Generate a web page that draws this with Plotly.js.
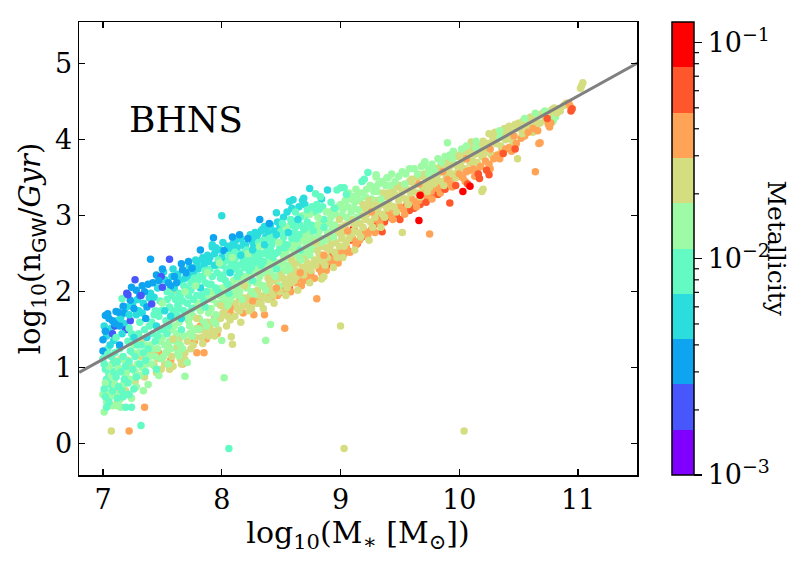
<!DOCTYPE html>
<html>
<head>
<meta charset="utf-8">
<script src="https://cdn.plot.ly/plotly-3.0.1.min.js"></script>
<style>
  html, body { margin: 0; padding: 0; background: #fff; }
  #chart { width: 806px; height: 564px; }
</style>
</head>
<body>
<div id="chart"></div>
<script>
// Galaxies: [log10 stellar mass, log10 BHNS merger count per Gyr], grouped by metallicity bin.
const violetPts = [[7.08,1.45],[7.10,1.55],[7.19,1.50],[7.20,1.98],[7.21,1.96],[7.27,2.16],[7.23,1.62],[7.32,1.95],[7.41,1.84],[7.49,2.20],[7.56,2.43],[7.50,2.06]];

const bluePts = [[7.02,1.69],[7.04,1.71],[7.05,1.65],[7.00,1.37],[7.00,1.22],[7.08,1.62],[7.02,1.48],
  [7.11,1.74],[7.13,1.73],[7.10,1.58],[7.14,1.55],[7.17,1.81],[7.18,1.72],
  [7.24,2.06],[7.28,2.02],[7.23,1.89],[7.26,1.78],
  [7.31,1.95],[7.37,1.80],[7.35,2.00],[7.38,2.10],[7.33,2.08],
  [7.40,2.43],[7.45,2.22],[7.42,2.12],[7.50,2.30],[7.57,2.08],
  [7.66,2.37],[7.67,2.29],[7.60,2.20],[7.62,2.12],[7.70,2.25],
  [7.72,2.40],[7.75,2.31],[7.82,2.55],
  [7.93,2.71],[8.02,2.54],[8.09,2.72],[8.15,2.75],[8.22,2.70],[8.32,2.95],[8.40,2.90],
  [7.14,1.30],[7.36,1.65],[7.55,2.12],[7.47,2.15]];

const cyanPts = [[7.01,1.55],[7.03,1.42],[7.07,1.52],[7.09,1.36],
  [7.12,1.62],[7.15,1.66],[7.18,1.58],
  [7.20,1.80],[7.25,1.85],[7.28,1.70],[7.29,1.90],
  [7.30,1.75],[7.34,1.85],[7.39,1.92],[7.33,1.72],
  [7.43,1.93],[7.40,1.98],[7.46,2.05],
  [7.51,2.26],[7.52,2.16],[7.58,2.20],[7.59,2.30],
  [7.63,2.23],[7.60,2.05],[7.65,2.15],[7.69,2.18],
  [7.71,2.20],[7.73,2.33],[7.76,2.25],[7.79,2.35],
  [7.80,2.30],[7.84,2.45],[7.89,2.40],
  [7.92,2.59],[7.90,2.45],[7.94,2.50],[7.99,2.55],
  [8.00,3.00],[8.04,2.55],[8.08,2.57],[8.01,2.65],[8.09,2.62],
  [8.10,2.65],[8.13,2.58],[8.16,2.70],[8.19,2.60],
  [8.20,2.62],[8.24,2.75],[8.27,2.60],[8.29,2.70],
  [8.30,2.75],[8.34,2.82],[8.37,2.72],[8.38,2.85],[8.39,2.78],
  [8.46,3.04],[8.41,2.88],[8.44,2.80],[8.47,2.92],[8.49,2.85],
  [8.57,3.19],[8.52,2.98],[8.55,3.05],[8.59,3.10],
  [8.60,3.21],[8.69,3.23],[8.68,3.20],[8.65,3.12],
  [8.70,3.15],[8.74,3.36],[8.89,3.34],[8.84,3.22],
  [7.06,1.30],[7.16,1.45],[7.22,1.70],[7.78,2.42],[7.83,2.42],[7.85,2.35],[7.88,2.48],[7.95,2.58],[7.92,2.62],
  [8.05,2.60],[8.00,2.45],[8.18,2.62],[8.12,2.68],[8.28,2.78],[8.26,2.66],[8.36,2.86],[8.33,2.80],
  [7.45,1.55],[7.57,1.68],[7.66,1.65],[7.82,2.05],[7.94,2.35],[8.07,2.25],[8.16,2.48],[8.26,2.55],
  [8.36,2.62],[8.46,2.75],[8.56,2.78],[8.64,2.95],[7.26,1.40],[7.37,1.40],[7.52,1.75]];

const aquaPts = [[7.00,1.12],[7.02,0.98],[7.05,0.92],[7.08,1.05],[7.03,0.85],[7.06,0.78],[7.01,0.72],[7.09,0.95],[7.04,1.25],[7.07,1.15],[7.02,0.62],[7.08,0.70],[7.05,0.55],[7.03,0.48],
  [7.10,1.20],[7.12,1.08],[7.15,0.95],[7.17,1.15],[7.19,1.02],[7.11,0.88],[7.13,0.75],[7.16,0.70],[7.18,0.85],[7.14,1.25],[7.19,0.48],[7.12,0.60],[7.17,0.62],[7.16,1.91],
  [7.21,1.35],[7.23,1.22],[7.29,1.30],[7.22,1.08],[7.25,0.98],[7.27,1.15],[7.24,0.48],[7.28,0.88],[7.21,0.80],[7.26,0.72],[7.21,0.65],
  [7.30,1.45],[7.32,1.30],[7.35,1.50],[7.39,1.55],[7.34,1.20],[7.36,1.10],[7.38,1.25],[7.32,0.24],[7.31,1.05],
  [7.41,1.60],[7.43,1.70],[7.47,1.68],[7.49,1.75],[7.42,1.45],[7.44,1.35],[7.46,1.42],[7.48,1.50],
  [7.54,1.90],[7.56,1.80],[7.58,1.95],[7.53,1.62],[7.55,1.55],[7.59,1.75],[7.51,1.50],
  [7.61,1.90],[7.63,1.82],[7.65,1.95],[7.67,1.88],[7.62,1.70],[7.64,1.78],[7.68,1.75],
  [7.70,2.05],[7.72,1.95],[7.74,2.02],[7.76,1.90],[7.71,1.85],[7.75,1.78],[7.79,1.95],
  [7.80,2.15],[7.84,2.20],[7.86,2.12],[7.83,1.95],[7.87,2.00],[7.89,2.10],[7.85,1.88],
  [7.90,2.30],[7.92,2.20],[7.96,2.25],[7.91,2.10],[7.95,2.05],[7.99,2.18],[7.97,2.00],
  [8.00,2.35],[8.02,2.40],[8.04,2.30],[8.06,2.42],[8.08,2.35],[8.01,2.22],[8.03,2.15],[8.05,2.10],[8.06,-0.06],
  [8.10,2.40],[8.12,2.45],[8.14,2.35],[8.18,2.40],[8.11,2.30],[8.15,2.25],[8.19,2.32],[8.13,2.20],
  [8.20,2.45],[8.24,2.42],[8.28,2.48],[8.21,2.35],[8.25,2.32],[8.29,2.40],[8.23,2.28],[8.27,2.38],
  [8.30,2.55],[8.34,2.50],[8.38,2.55],[8.31,2.45],[8.35,2.40],[8.39,2.48],[8.33,2.35],
  [8.40,2.70],[8.42,2.62],[8.44,2.68],[8.41,2.55],[8.45,2.50],[8.49,2.58],[8.43,2.45],[8.47,2.52],
  [8.50,2.80],[8.52,2.72],[8.58,2.88],[8.51,2.65],[8.55,2.62],[8.59,2.70],[8.53,2.58],
  [8.60,2.92],[8.62,2.85],[8.66,2.88],[8.61,2.78],[8.65,2.75],[8.69,2.82],[8.63,2.70],
  [8.79,3.29],[8.76,3.12],[8.70,3.00],[8.72,2.92],[8.78,3.05],[8.71,2.85],[8.75,2.88],[8.77,2.80],
  [8.80,3.15],[8.82,3.08],[8.85,3.12],[8.86,2.95],[8.83,3.25],
  [8.97,3.34],[9.00,3.37],[8.92,3.18],[8.95,3.10],[9.03,3.37],[9.05,3.28],[9.18,3.45],[9.20,3.48],[9.23,3.57],
  [7.04,1.18],[7.01,1.05],[7.11,1.40],[7.22,1.52],[7.24,1.45],[7.31,1.60],[7.48,1.88],[7.44,1.75],[7.54,2.00],
  [7.68,2.08],[7.64,1.98],[7.74,2.12],[7.77,2.18],[7.86,2.28],[7.81,2.20],[7.97,2.42],[7.96,2.35],[8.06,2.48],
  [8.11,2.52],[8.17,2.50],[8.21,2.55],[8.25,2.52],[8.31,2.65],[8.35,2.68],[8.43,2.72],[8.58,2.95],[8.51,2.90],
  [8.62,3.05],[8.66,2.98],[8.72,3.08],
  [7.54,1.45],[7.66,1.50],[7.86,1.80],[8.06,1.98],[8.26,2.15],[8.46,2.30],[8.66,2.55],[8.86,2.85],[7.36,0.95],[7.45,0.98],[7.22,0.65]];

const greenPts = [[7.01,0.42],[7.03,0.55],[7.00,0.65],[7.06,0.62],[7.09,0.82],[7.04,0.68],[7.07,0.90],[7.02,0.80],[7.05,1.02],[7.08,0.50],
  [7.11,0.65],[7.14,0.58],[7.17,0.78],[7.19,0.92],[7.13,1.00],[7.10,0.78],[7.15,0.48],[7.18,1.10],[7.12,0.50],
  [7.20,0.95],[7.23,0.85],[7.25,1.20],[7.27,0.95],[7.29,1.05],[7.28,0.75],[7.24,0.60],[7.26,1.30],
  [7.30,1.20],[7.33,1.00],[7.35,1.30],[7.37,1.05],[7.39,1.15],[7.31,0.90],[7.38,0.78],[7.34,0.70],
  [7.40,1.30],[7.42,1.25],[7.44,1.15],[7.46,1.25],[7.48,1.35],[7.41,1.05],[7.49,1.12],[7.47,0.90],
  [7.50,1.40],[7.52,1.30],[7.56,1.35],[7.58,1.50],[7.53,1.20],[7.57,1.25],[7.55,1.05],[7.51,1.15],
  [7.60,1.55],[7.62,1.45],[7.64,1.60],[7.68,1.42],[7.61,1.35],[7.65,1.30],[7.67,1.25],[7.69,0.89],[7.63,1.20],[7.64,1.16],[7.71,1.07],
  [7.70,1.70],[7.72,1.62],[7.74,1.75],[7.76,1.68],[7.78,1.80],[7.73,1.55],[7.77,1.50],[7.75,1.42],
  [7.80,1.85],[7.82,1.75],[7.84,1.90],[7.88,1.92],[7.81,1.65],[7.85,1.60],[7.89,1.72],[7.87,1.55],[7.81,1.51],
  [7.90,2.00],[7.92,1.90],[7.94,1.98],[7.96,1.85],[7.98,1.95],[7.91,1.78],[7.95,1.70],[7.93,1.62],
  [8.00,2.05],[8.02,1.95],[8.04,2.08],[8.08,2.10],[8.01,1.88],[8.05,1.82],[8.09,1.95],[8.02,0.87],[8.00,1.36],[8.07,1.90],
  [8.10,2.15],[8.12,2.05],[8.14,2.18],[8.16,2.10],[8.18,2.20],[8.11,1.98],[8.15,2.00],[8.17,1.90],
  [8.20,2.20],[8.22,2.10],[8.24,2.22],[8.28,2.28],[8.21,2.05],[8.25,2.00],[8.29,2.12],[8.27,1.95],
  [8.30,2.30],[8.32,2.20],[8.34,2.32],[8.36,2.25],[8.38,2.35],[8.31,2.12],[8.35,2.08],[8.37,2.02],[8.37,1.36],
  [8.41,1.57],[8.40,2.42],[8.42,2.35],[8.44,2.40],[8.48,2.08],[8.41,2.25],[8.45,2.20],[8.49,2.32],[8.47,2.38],
  [8.50,2.55],[8.52,2.48],[8.54,2.52],[8.56,2.45],[8.58,2.58],[8.51,2.40],[8.55,2.35],[8.57,2.30],
  [8.60,2.65],[8.62,2.58],[8.64,2.62],[8.68,2.68],[8.61,2.50],[8.65,2.45],[8.69,2.52],[8.67,2.42],
  [8.70,2.75],[8.72,2.68],[8.74,2.78],[8.76,2.70],[8.78,2.82],[8.71,2.60],[8.75,2.55],[8.73,2.52],[8.77,2.62],
  [8.80,2.88],[8.82,2.80],[8.84,2.92],[8.88,2.90],[8.81,2.72],[8.85,2.70],[8.89,2.78],[8.83,2.65],[8.87,2.68],
  [8.90,3.05],[8.92,2.98],[8.94,3.08],[8.96,3.02],[8.98,3.12],[8.91,2.90],[8.95,2.88],[8.93,2.82],
  [9.00,3.15],[9.02,3.08],[9.04,3.20],[9.06,3.12],[9.08,3.22],[9.01,3.00],[9.05,2.98],[9.09,3.05],[9.07,3.30],
  [9.10,3.25],[9.12,3.18],[9.14,3.28],[9.16,3.20],[9.18,3.30],[9.11,3.10],[9.15,3.08],[9.13,3.35],
  [9.30,3.51],[9.22,3.35],[9.25,3.40],[9.28,3.32],[9.21,3.25],[9.26,3.22],[9.29,3.38],
  [9.30,3.54],[9.32,3.42],[9.35,3.45],[9.38,3.40],[9.31,3.32],[9.39,3.50],
  [9.40,3.50],[9.43,3.55],[9.46,3.45],[9.49,3.52],[9.42,3.40],[9.52,3.58],[9.55,3.55],[9.58,3.62],
  [9.62,3.62],[9.65,3.55],[9.68,3.65],[9.70,3.68],[9.71,3.71],[9.74,3.62],[9.77,3.68],[9.79,3.60],
  [9.82,3.75],[9.85,3.70],[9.88,3.78],[9.90,3.96],[9.92,3.80],[9.95,3.85],
  [10.02,3.88],[10.06,3.92],[10.14,3.98],[10.34,4.03],[10.55,4.28],[10.64,4.35],[10.78,4.23],[10.79,4.25],[10.72,4.38],[10.81,4.30],
  [7.50,1.85],[7.69,2.00],[7.78,2.08],[7.88,2.25],[7.98,2.38],[8.09,2.45],[8.22,2.50],[8.32,2.60],[8.48,2.65],
  [8.54,2.85],[8.68,3.00],[8.74,3.02],[8.88,3.05],[8.81,2.98],
  [7.73,1.45],[7.95,1.58],[8.14,1.95],[8.34,2.08],[8.54,2.28],[8.74,2.48],[8.94,2.72],[9.14,2.98],[9.34,3.22],
  [9.54,3.42],[9.74,3.55],[9.94,3.75],[10.14,3.90],[10.34,4.12]];

const khakiPts = [[7.07,0.17],[7.09,1.10],[7.12,0.55],[7.15,1.12],[7.19,0.70],[7.13,0.68],
  [7.21,1.10],[7.27,0.82],[7.29,1.18],[7.24,1.00],[7.32,1.15],[7.35,0.88],[7.38,1.21],[7.33,1.38],
  [7.43,1.03],[7.46,1.12],[7.49,0.98],[7.41,1.18],[7.45,0.94],
  [7.54,1.21],[7.52,1.05],[7.55,1.28],[7.58,1.15],[7.56,0.98],[7.59,1.02],
  [7.60,2.02],[7.62,1.26],[7.65,1.12],[7.69,1.20],[7.69,1.11],[7.64,1.38],[7.66,1.05],
  [7.71,1.35],[7.76,1.30],[7.78,1.40],[7.74,1.25],[7.79,1.52],
  [7.81,1.50],[7.83,1.40],[7.86,1.48],[7.88,1.60],[7.84,1.32],[7.89,1.42],
  [7.90,1.55],[7.92,1.48],[7.97,1.50],[7.99,1.65],[7.94,1.42],
  [8.03,1.78],[8.05,1.68],[8.07,1.63],[8.09,1.31],[8.08,1.41],[8.04,1.55],[8.01,1.72],[8.06,1.85],
  [8.15,1.75],[8.12,1.85],[8.18,1.82],[8.11,1.68],[8.19,1.92],[8.16,1.60],
  [8.20,1.90],[8.22,1.82],[8.24,1.95],[8.28,2.00],[8.23,1.75],[8.29,1.85],
  [8.30,2.02],[8.32,1.95],[8.36,1.92],[8.38,2.00],[8.33,1.85],[8.39,1.90],[8.35,1.78],
  [8.40,2.10],[8.42,2.02],[8.44,2.15],[8.48,2.18],[8.43,1.95],[8.49,2.00],
  [8.50,2.25],[8.52,2.18],[8.56,2.15],[8.58,2.22],[8.53,2.10],[8.59,2.12],[8.55,2.05],
  [8.60,2.35],[8.62,2.28],[8.64,2.38],[8.68,2.32],[8.63,2.20],[8.69,2.22],[8.61,2.15],
  [8.70,2.45],[8.72,2.38],[8.76,2.35],[8.78,2.42],[8.71,2.30],[8.75,2.28],[8.79,2.35],
  [8.84,2.17],[8.80,2.55],[8.82,2.50],[8.84,2.60],[8.88,2.58],[8.81,2.42],[8.85,2.40],[8.89,2.45],[8.87,2.35],
  [9.00,1.55],[8.90,2.70],[8.92,2.62],[8.96,2.65],[8.98,2.78],[8.91,2.55],[8.95,2.52],[8.99,2.60],[8.97,2.45],
  [9.03,-0.06],
  [9.00,2.85],[9.02,2.78],[9.04,2.88],[9.08,2.92],[9.01,2.70],[9.05,2.65],[9.09,2.75],[9.03,2.60],[9.07,2.70],
  [9.10,2.95],[9.12,2.88],[9.16,2.90],[9.18,3.00],[9.11,2.80],[9.15,2.78],[9.19,2.85],[9.17,2.72],
  [9.20,3.10],[9.22,3.02],[9.24,3.12],[9.28,3.15],[9.21,2.95],[9.25,2.92],[9.29,2.98],[9.27,2.85],
  [9.30,3.20],[9.32,3.12],[9.36,3.15],[9.38,3.25],[9.31,3.05],[9.35,3.02],[9.39,3.10],[9.37,2.98],
  [9.40,3.30],[9.42,3.25],[9.44,3.35],[9.46,3.28],[9.48,3.38],[9.41,3.15],[9.45,3.12],[9.49,3.20],[9.47,3.05],
  [9.52,2.78],[9.50,3.40],[9.52,3.32],[9.56,3.35],[9.58,3.45],[9.51,3.25],[9.55,3.22],[9.59,3.30],[9.57,3.15],
  [9.60,3.48],[9.62,3.40],[9.64,3.50],[9.68,3.52],[9.61,3.32],[9.65,3.30],[9.69,3.38],[9.67,3.25],
  [9.70,3.55],[9.72,3.48],[9.76,3.45],[9.78,3.52],[9.71,3.40],[9.75,3.38],[9.79,3.42],[9.73,3.32],
  [9.80,3.62],[9.82,3.55],[9.84,3.65],[9.88,3.68],[9.81,3.48],[9.85,3.45],[9.89,3.52],[9.87,3.40],
  [9.90,3.72],[9.92,3.65],[9.96,3.68],[9.98,3.78],[9.91,3.58],[9.95,3.55],[9.99,3.62],[9.97,3.50],
  [10.00,3.80],[10.02,3.72],[10.04,3.82],[10.08,3.85],[10.01,3.65],[10.05,3.62],[10.09,3.70],[10.04,0.17],
  [10.10,3.97],[10.10,3.88],[10.12,3.80],[10.16,3.82],[10.18,3.92],[10.11,3.72],[10.15,3.70],[10.19,3.78],[10.20,3.35],[10.19,3.32],
  [10.25,4.08],[10.28,4.05],[10.20,3.98],[10.22,3.90],[10.24,3.95],[10.28,3.98],[10.21,3.82],[10.27,3.80],
  [10.30,4.10],[10.32,4.02],[10.36,4.05],[10.38,4.15],[10.31,3.95],[10.35,3.92],[10.39,4.00],
  [10.47,4.20],[10.49,3.75],[10.40,4.12],[10.42,4.18],[10.44,4.10],[10.48,4.15],[10.41,4.02],[10.45,3.98],
  [10.58,4.26],[10.50,4.22],[10.52,4.15],[10.54,4.25],[10.56,4.18],[10.59,4.20],[10.53,4.08],
  [10.62,4.10],[10.60,4.30],[10.63,4.25],[10.66,4.32],[10.68,4.22],[10.65,4.18],
  [10.74,4.36],[10.70,4.35],[10.72,4.30],[10.76,4.32],[10.78,4.40],[10.73,4.25],
  [10.83,4.41],[10.80,4.42],[10.82,4.35],[10.85,4.38],[10.88,4.45],
  [11.03,4.71],[11.04,4.75],[11.02,4.68],[10.90,4.48],
  [7.59,1.38],[7.79,1.65],[7.99,1.82],[8.19,2.08],[8.39,2.18],[8.59,2.42],[8.79,2.65],[8.99,2.95],[9.19,3.15],[9.24,3.20],[9.36,3.30],
  [8.13,1.78],[8.25,1.78],[8.32,1.85],[8.44,1.85],[8.54,1.95],[8.64,2.02],[8.74,2.12],[8.86,2.20],[8.94,2.32],
  [9.02,2.45],[9.12,2.55],[9.24,2.68],[9.34,2.85]];

const orangePts = [[7.22,0.17],[7.35,0.48],[7.47,1.20],[7.57,1.10],[7.61,1.39],[7.66,1.21],[7.67,1.05],[7.65,1.20],
  [7.77,1.35],[7.79,1.20],[7.82,1.55],[7.87,1.38],[7.85,1.20],[7.94,1.65],[7.99,2.03],[7.96,1.45],
  [8.03,1.82],[8.07,1.72],[8.08,1.80],[8.05,1.95],[8.15,1.93],[8.18,1.72],
  [8.21,1.85],[8.28,1.92],[8.27,1.70],[8.36,1.70],[8.37,1.95],[8.39,2.05],[8.34,1.92],
  [8.42,1.92],[8.45,2.00],[8.47,1.95],[8.53,1.52],[8.52,2.02],[8.56,2.08],[8.58,2.00],
  [8.62,2.12],[8.65,2.18],[8.67,2.08],[8.69,2.15],[8.72,2.20],[8.75,2.25],[8.78,2.18],[8.80,1.91],
  [8.82,2.30],[8.85,2.35],[8.88,2.28],[8.84,2.25],[8.92,2.40],[8.95,2.45],[8.98,2.38],[8.99,2.50],
  [9.00,2.55],[9.03,2.50],[9.05,2.58],[9.08,2.52],[9.10,2.70],[9.13,2.62],[9.16,2.68],[9.19,2.75],
  [9.27,2.85],[9.20,2.80],[9.23,2.75],[9.26,2.82],[9.29,2.78],[9.30,2.95],[9.33,2.90],[9.36,2.98],[9.39,3.00],
  [9.40,3.05],[9.43,3.00],[9.46,3.08],[9.49,3.12],[9.44,2.95],[9.50,3.12],[9.53,3.08],[9.56,3.15],[9.59,3.20],[9.54,3.02],
  [9.60,3.22],[9.63,3.18],[9.66,3.20],[9.69,3.28],[9.64,3.12],[9.75,2.76],[9.70,3.30],[9.73,3.25],[9.76,3.32],[9.79,3.35],[9.77,3.22],
  [9.80,3.40],[9.83,3.35],[9.86,3.42],[9.89,3.45],[9.84,3.30],[9.90,3.48],[9.93,3.42],[9.96,3.50],[9.99,3.52],[9.94,3.38],
  [10.00,3.55],[10.03,3.50],[10.06,3.58],[10.09,3.60],[10.05,3.45],[10.12,3.62],[10.15,3.58],[10.18,3.65],[10.13,3.52],
  [10.26,3.62],[10.22,3.72],[10.25,3.68],[10.29,3.75],[10.32,3.80],[10.36,3.85],[10.39,3.88],[10.34,3.75],
  [10.42,3.90],[10.45,3.92],[10.48,3.95],[10.44,3.85],[10.52,4.02],[10.55,4.05],[10.58,4.10],
  [10.64,3.58],[10.67,3.95],[10.68,3.96],[10.62,4.15],[10.66,4.12],[10.76,4.17],[10.75,4.20],[10.77,4.22],
  [10.93,4.45],[10.92,4.48],
  [8.26,1.88],[8.46,2.05],[8.66,2.25],[8.86,2.48],[9.06,2.80],[9.26,3.05],[9.66,3.42],[9.86,3.58],[10.06,3.75],[10.26,3.88],[10.46,4.05]];

const vermilionPts = [[8.48,1.98],[8.57,2.05],[8.73,2.25],[8.89,2.35],[8.96,2.42],[8.93,2.48],
  [9.06,2.54],[9.08,2.68],[9.14,2.63],[9.18,2.72],[9.22,2.78],[9.28,2.88],
  [9.35,2.79],[9.37,2.92],[9.47,3.02],[9.42,2.98],[9.50,2.95],[9.58,3.07],
  [9.67,3.15],[9.62,3.10],[9.76,3.26],[9.72,3.18],[9.82,3.28],[9.88,3.35],
  [9.92,3.17],[9.97,3.40],[10.07,3.42],[10.17,3.49],[10.16,3.55],[10.25,3.54],[10.23,3.60],
  [10.37,3.82],[10.47,3.88],[10.74,4.28],[10.94,4.38],[10.95,4.41]];

const redPts = [[9.11,2.83],[9.32,2.98],[9.55,3.12],[9.66,2.94],[9.67,3.27],[10.03,3.32],[10.09,3.39]];

// log10(Z) at the centre of each metallicity bin, same order as the groups below
const binLogZ = [-2.685, -2.475, -2.265, -2.055, -1.845, -1.635, -1.425, -1.215, -1.005];

// Linear fit drawn across the panel
const fitMass = [6.8, 11.5];
const fitRate = [0.94, 5.01];

// Colour bar: ten rainbow bins spanning log10 Z from -3 to about -0.9
const zMin = -3.0, zMax = -0.904;
const binColors = ['#8000ff','#4757fb','#0ea4f0','#2bdddd','#63fbc3','#9cfba4','#d4dd80','#ffa457','#ff572c','#ff0000'];
const majorTickLogZ = [-3, -2, -1];
const majorTickText = ['10<sup>−3</sup>', '10<sup>−2</sup>', '10<sup>−1</sup>'];
const minorTickZ = [0.002,0.003,0.004,0.005,0.006,0.007,0.008,0.009,0.02,0.03,0.04,0.05,0.06,0.07,0.08,0.09];

const xTicks = [7, 8, 9, 10, 11];
const yTicks = [0, 1, 2, 3, 4, 5];

// Stepped colour scale
const colorscale = [];
binColors.forEach((c, i) => {
  colorscale.push([i / binColors.length, c]);
  colorscale.push([(i + 1) / binColors.length, c]);
});

// Spread every group evenly through the drawing order so no bin sits on top of the rest
const groups = [violetPts, bluePts, cyanPts, aquaPts, greenPts, khakiPts, orangePts, vermilionPts, redPts];
const entries = [];
groups.forEach((pts, g) => {
  pts.forEach((p, i) => entries.push({ key: (i + 0.5) / pts.length, x: p[0], y: p[1], z: binLogZ[g] }));
});
entries.sort((a, b) => a.key - b.key);

const FONT = 'DejaVu Serif';
const plotLeft = 79, plotRight = 637;
const plotW = plotRight - plotLeft;
const cbLeftPx = 672, cbThick = 22;
const cbX = (cbLeftPx - plotLeft) / plotW;

const galaxies = {
  type: 'scatter', mode: 'markers',
  x: entries.map(e => e.x), y: entries.map(e => e.y),
  hoverinfo: 'skip', showlegend: false,
  marker: {
    size: 7.5, color: entries.map(e => e.z),
    cmin: zMin, cmax: zMax, colorscale: colorscale,
    line: { width: 0 },
    showscale: true,
    colorbar: {
      thickness: cbThick, thicknessmode: 'pixels',
      len: 1, lenmode: 'fraction',
      x: cbX, xanchor: 'left', xpad: 0,
      y: 0.5, yanchor: 'middle', ypad: 0,
      outlinewidth: 1.5, outlinecolor: '#000',
      ticks: 'outside', tickcolor: '#000', tickwidth: 1.2, ticklen: 8,
      tickmode: 'array', tickvals: majorTickLogZ, ticktext: majorTickText,
      tickfont: { family: FONT, size: 27, color: '#000' }
    }
  }
};

const fitLine = {
  type: 'scatter', mode: 'lines', x: fitMass, y: fitRate,
  line: { color: '#808080', width: 3 }, hoverinfo: 'skip', showlegend: false
};

// Short minor ticks on the right edge of the colour bar, placed by log10 Z
const cbRight = (cbLeftPx + cbThick - plotLeft) / plotW;
const minorTicks = minorTickZ.map(v => {
  const yy = (Math.log10(v) - zMin) / (zMax - zMin);
  return { type: 'line', xref: 'paper', yref: 'paper', x0: cbRight, x1: cbRight + 5 / plotW, y0: yy, y1: yy,
           line: { color: '#000', width: 1.2 } };
});

const axisCommon = {
  showline: true, linecolor: '#000', linewidth: 1.5, mirror: 'ticks',
  ticks: 'inside', ticklen: 6, tickwidth: 1.2, tickcolor: '#000',
  showgrid: false, zeroline: false, tickmode: 'array',
  tickfont: { family: FONT, size: 27, color: '#000' }
};

const layout = {
  width: 806, height: 564,
  margin: { l: plotLeft, r: 806 - plotRight, t: 22, b: 89 },
  paper_bgcolor: '#fff', plot_bgcolor: '#fff',
  font: { family: FONT, color: '#000' },
  showlegend: false,
  shapes: minorTicks,
  xaxis: Object.assign({}, axisCommon, {
    range: [6.798, 11.496], tickvals: xTicks,
    title: { text: 'log<sub>10</sub>(M<sub>∗</sub> [M<sub>⊙</sub>])', font: { family: FONT, size: 30, color: '#000' }, standoff: 2 }
  }),
  yaxis: Object.assign({}, axisCommon, {
    range: [-0.41, 5.55], tickvals: yTicks,
    title: { text: 'log<sub>10</sub>(n<sub><span style="font-family:DejaVu Sans">GW</span></sub>/<i>Gyr</i>)', font: { family: FONT, size: 29, color: '#000' }, standoff: 6 }
  }),
  annotations: [
    { text: 'BHNS', xref: 'paper', yref: 'paper', x: (127 - plotLeft) / plotW, y: 0.785,
      xanchor: 'left', yanchor: 'middle', showarrow: false, font: { family: FONT, size: 36, color: '#000' } },
    { text: 'Metallicity', xref: 'paper', yref: 'paper', x: (776 - plotLeft) / plotW, y: 0.5,
      xanchor: 'center', yanchor: 'middle', textangle: 90, showarrow: false, font: { family: FONT, size: 25, color: '#000' } }
  ]
};

Plotly.newPlot('chart', [galaxies, fitLine], layout, { displayModeBar: false, staticPlot: true });
</script>
</body>
</html>
